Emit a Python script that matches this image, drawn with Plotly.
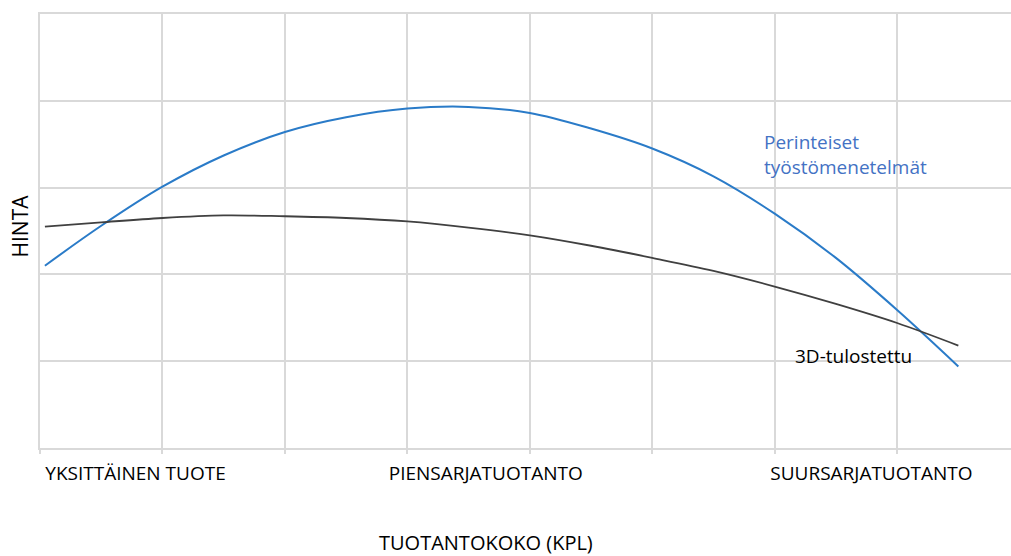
import plotly.graph_objects as go

# Production volume position (grid units along the x axis)
x_pos = [0.04, 0.5, 1.0, 1.5, 2.0, 2.5, 3.0, 3.5, 4.0, 4.5, 5.0, 5.5, 6.0, 6.5, 7.0, 7.5]
# Price, traditional machining methods
perinteiset = [2.10, 2.56, 3.01, 3.37, 3.64, 3.81, 3.91, 3.93, 3.86, 3.68, 3.45, 3.13, 2.70, 2.19, 1.59, 0.94]
# Price, 3D-printed
tulostettu = [2.55, 2.60, 2.65, 2.68, 2.67, 2.65, 2.61, 2.54, 2.45, 2.33, 2.19, 2.04, 1.86, 1.66, 1.44, 1.18]

categories = ["YKSITTÄINEN TUOTE", "PIENSARJATUOTANTO", "SUURSARJATUOTANTO"]
category_pos = [0.78, 3.64, 6.79]

FONT = "Open Sans"
GRID = "#d9d9d9"

fig = go.Figure()
fig.add_trace(go.Scatter(x=x_pos, y=perinteiset, mode="lines",
                         line=dict(color="#2a7bc8", width=2, shape="spline"),
                         showlegend=False, hoverinfo="skip"))
fig.add_trace(go.Scatter(x=x_pos, y=tulostettu, mode="lines",
                         line=dict(color="#404040", width=1.8, shape="spline"),
                         showlegend=False, hoverinfo="skip"))

fig.update_layout(
    width=1011, height=556,
    margin=dict(l=40, r=0, t=14, b=108),
    paper_bgcolor="white", plot_bgcolor="white",
    font=dict(family=FONT, color="#000000"),
    xaxis=dict(
        range=[0, 7.93], showgrid=False, zeroline=False,
        tickvals=category_pos, ticktext=categories, ticks="",
        tickfont=dict(family=FONT, size=19, color="#000000"),
        ticklabelstandoff=7,
        showline=True, linecolor=GRID, linewidth=1.5, mirror=True,
        minor=dict(tick0=0, dtick=1, showgrid=True, gridcolor=GRID, gridwidth=1.5,
                   ticks="outside", ticklen=4, tickcolor=GRID, tickwidth=1.5),
    ),
    yaxis=dict(
        range=[0, 5], dtick=1, showgrid=True, gridcolor=GRID, gridwidth=1.5,
        zeroline=False, showticklabels=False, ticks="",
        showline=True, linecolor=GRID, linewidth=1.5,
    ),
    annotations=[
        dict(text="Perinteiset<br>työstömenetelmät", x=5.90, y=3.38, xref="x", yref="y",
             xanchor="left", yanchor="middle", align="left", showarrow=False,
             font=dict(family=FONT, size=19, color="#4472c4")),
        dict(text="3D-tulostettu", x=6.15, y=1.06, xref="x", yref="y",
             xanchor="left", yanchor="middle", showarrow=False,
             font=dict(family=FONT, size=19, color="#000000")),
        dict(text="TUOTANTOKOKO (KPL)", x=3.64, y=-0.218, xref="x", yref="paper",
             xanchor="center", yanchor="middle", showarrow=False,
             font=dict(family=FONT, size=20, color="#000000")),
        dict(text="HINTA", x=-0.0211, y=0.5115, xref="paper", yref="paper",
             xanchor="center", yanchor="middle", textangle=-90, showarrow=False,
             font=dict(family=FONT, size=21, color="#000000")),
    ],
)

fig.write_html(
    "out.html",
    config={"displayModeBar": False},
    post_script="document.body.style.margin='0';document.body.style.overflow='hidden';",
)
